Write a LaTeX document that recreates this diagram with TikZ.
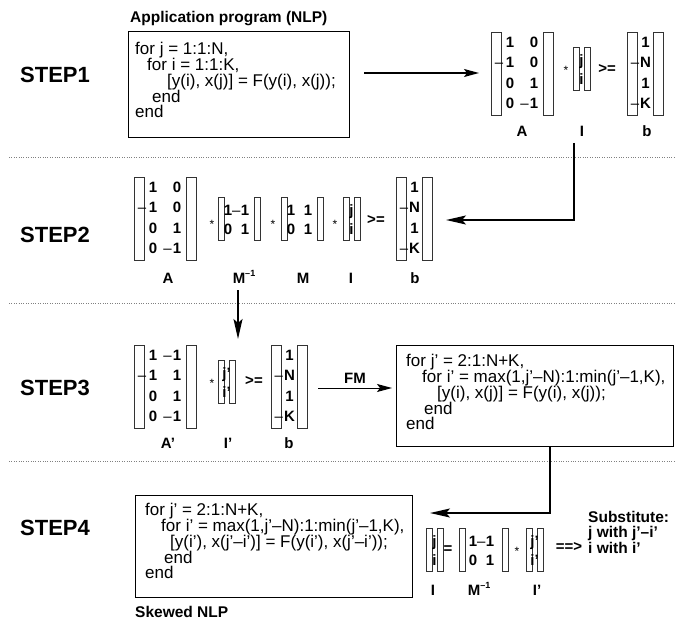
\documentclass[tikz,border=0pt]{standalone}
\usepackage{fontspec}
\setmainfont{Liberation Sans}
\usetikzlibrary{arrows.meta}

\newcommand\mn{\llap{\mdseries –\kern2.5pt}}
\newcommand\mb{\llap{\mdseries –\kern1pt}}
\newcommand\mm{\llap{\mdseries –\kern0.3pt}}
\newcommand\minv{M\raisebox{7pt}{\fontsize{9}{9}\selectfont –1}}

\tikzset{
  stepl/.style={font=\fontsize{22}{22}\selectfont\bfseries, anchor=west, inner sep=0},
  codebox/.style={draw, line width=0.8pt, anchor=north west, inner sep=0},
  codetext/.style={anchor=north west, inner sep=0, align=left, font=\fontsize{17}{16}\selectfont},
  ent/.style={font=\fontsize{15}{15}\selectfont\bfseries, inner sep=0, text height=10.7pt, text depth=0pt, anchor=center},
  opr/.style={font=\fontsize{15}{15}\selectfont\bfseries, inner sep=0, anchor=center},
  star/.style={font=\fontsize{12}{12}\selectfont, inner sep=0, anchor=base},
  brk/.style={draw=black!80, line width=0.6pt},
  lbl/.style={font=\fontsize{15}{15}\selectfont\bfseries, inner sep=0, text height=10.7pt, text depth=0pt, anchor=center},
  ttl/.style={font=\fontsize{15.5}{15.5}\selectfont\bfseries, inner sep=0, anchor=west},
  sepline/.style={gray, line width=0.7pt, dash pattern=on 0.8pt off 1.6pt},
  arr/.style={-{Stealth[length=15pt,width=8pt,inset=3pt]}, line width=1.3pt},
  conn/.style={-{Stealth[length=20pt,width=9pt,inset=4pt]}, line width=1.8pt},
}

% 4x2 matrix: name, left, top, list a/b
\newcommand\fourbytwo[4]{%
  \begin{scope}[shift={(#2,#3)}]
    \draw[brk] (0,0) rectangle (10,83);
    \draw[brk] (52,0) rectangle (62,83);
    \foreach \a/\b [count=\i] in {#4} {
      \node[ent] (#1-\i-1) at (19,{10+20.5*(\i-1)}) {\a};
      \node[ent] (#1-\i-2) at (43,{10+20.5*(\i-1)}) {\b};
    }
  \end{scope}}
% 4x1 vector: name, left, top, list
\newcommand\fourvec[4]{%
  \begin{scope}[shift={(#2,#3)}]
    \draw[brk] (0,0) rectangle (10,83);
    \draw[brk] (26,0) rectangle (36,83);
    \foreach \a [count=\i] in {#4} {
      \node[ent] (#1-\i) at (18.5,{10+20.5*(\i-1)}) {\a};
    }
  \end{scope}}
% 2x2 matrix: name, left, top, right bracket x, col1, col2, list a/b
\newcommand\twobytwo[7]{%
  \begin{scope}[shift={(#2,#3)}]
    \draw[brk] (0,0) rectangle (6,43);
    \draw[brk] (#4,0) rectangle ({#4+6},43);
    \foreach \a/\b [count=\i] in {#7} {
      \node[ent] (#1-\i-1) at (#5,{13+19*(\i-1)}) {\a};
      \node[ent] (#1-\i-2) at (#6,{13+19*(\i-1)}) {\b};
    }
  \end{scope}}
% 2x1 vector: name, left, top, list
\newcommand\twovec[4]{%
  \begin{scope}[shift={(#2,#3)}]
    \draw[brk] (0,0) rectangle (6,43);
    \draw[brk] (11,0) rectangle (17,43);
    \foreach \a [count=\i] in {#4} {
      \node[ent] (#1-\i) at (8.5,{13+19*(\i-1)}) {\a};
    }
  \end{scope}}

\begin{document}
\begin{tikzpicture}[x=1pt,y=-1pt]
\useasboundingbox (0,0) rectangle (676,620);

% step labels
\node[stepl] (st1) at (20,75) {STEP1};
\node[stepl] (st2) at (20,235) {STEP2};
\node[stepl] (st3) at (20,388) {STEP3};
\node[stepl] (st4) at (20,528) {STEP4};

% separators
\coordinate (d1a) at (9,157);  \coordinate (d1b) at (676,157);
\coordinate (d2a) at (9,303);  \coordinate (d2b) at (676,303);
\coordinate (d3a) at (9,461);  \coordinate (d3b) at (676,461);
\draw[sepline] (d1a) -- (d1b);
\draw[sepline] (d2a) -- (d2b);
\draw[sepline] (d3a) -- (d3b);

% ---------- STEP1 ----------
\node[ttl] (title1) at (130,19) {Application program (NLP)};
\node[codebox, minimum width=221pt, minimum height=106pt] (box1) at (128,31) {};
\node[codetext] (code1) at (135,42) {for j = 1:1:N,\\
\hspace*{12pt}for i = 1:1:K,\\
\hspace*{32pt}[y(i), x(j)] = F(y(i), x(j));\\[-0.5pt]
\hspace*{17pt}end\\[-1pt]
end};

\fourbytwo{sA}{491}{32}{1/0, \mn1/0, 0/1, 0/\mb1}
\node[star] (s1star) at (566,75) {*};
\twovec{sI}{573}{47}{j, i}
\node[opr] (s1ge) at (607,69) {>=};
\fourvec{sb}{627}{32}{1, \mb N, 1, \mb K}
\node[lbl] (s1lA) at (522,131) {A};
\node[lbl] (s1lI) at (582,131) {I};
\node[lbl] (s1lb) at (647,131) {b};

\coordinate (a1s) at (364,73);
\coordinate (a1e) at (479,73);
\draw[arr] (a1s) -- (a1e);

% STEP1 -> STEP2
\coordinate (c1s) at (574,143);
\coordinate (c1e) at (446,220);
\draw[conn] (c1s) |- (c1e);

% ---------- STEP2 ----------
\fourbytwo{tA}{134}{177}{1/0, \mn1/0, 0/1, 0/\mb1}
\node[star] (s2star1) at (212,228) {*};
\twobytwo{tMi}{218}{197}{36}{10}{27}{1/\mm1, 0/1}
\node[star] (s2star2) at (273,228) {*};
\twobytwo{tM}{281}{197}{36}{10}{27}{1/1, 0/1}
\node[star] (s2star3) at (335,228) {*};
\twovec{tI}{343}{197}{j, i}
\node[opr] (s2ge) at (376,220) {>=};
\fourvec{tb}{396}{177}{1, \mb N, 1, \mb K}
\node[lbl] (s2lA) at (168,278) {A};
\node[lbl] (s2lMi) at (244,278) {\minv};
\node[lbl] (s2lM) at (303,278) {M};
\node[lbl] (s2lI) at (351,278) {I};
\node[lbl] (s2lb) at (415,278) {b};

% STEP2 -> STEP3
\coordinate (c2s) at (238,290);
\coordinate (c2e) at (238,339);
\draw[conn] (c2s) -- (c2e);

% ---------- STEP3 ----------
\fourbytwo{uA}{134}{345}{1/\mb1, \mn1/1, 0/1, 0/\mb1}
\node[star] (s3star) at (212,387) {*};
\twovec{uI}{218}{360}{j’, i’}
\node[opr] (s3ge) at (254,381) {>=};
\fourvec{ub}{271}{345}{1, \mb N, 1, \mb K}
\node[lbl] (s3lA) at (168,443) {A’};
\node[lbl] (s3lI) at (228,443) {I’};
\node[lbl] (s3lb) at (289,443) {b};

\coordinate (fms) at (318,388);
\coordinate (fme) at (392,388);
\draw[arr, line width=1pt] (fms) -- node[above=4pt, font=\fontsize{15}{15}\selectfont\bfseries, inner sep=0] (fm) {FM} (fme);

\node[codebox, minimum width=277pt, minimum height=101pt] (box3) at (396,345) {};
\node[codetext] (code3) at (406,354) {for j’ = 2:1:N+K,\\
\hspace*{16pt}for i’ = max(1,j’–N):1:min(j’–1,K),\\
\hspace*{31pt}[y(i), x(j)] = F(y(i), x(j));\\[-0.5pt]
\hspace*{18pt}end\\[-1pt]
end};

% STEP3 -> STEP4
\coordinate (c3s) at (550,446);
\coordinate (c3e) at (430,513);
\draw[conn] (c3s) |- (c3e);

% ---------- STEP4 ----------
\node[codebox, minimum width=277pt, minimum height=102pt] (box4) at (135,495) {};
\node[codetext] (code4) at (145,503) {for j’ = 2:1:N+K,\\
\hspace*{16pt}for i’ = max(1,j’–N):1:min(j’–1,K),\\
\hspace*{25pt}[y(i’), x(j’–i’)] = F(y(i’), x(j’–i’));\\[-0.5pt]
\hspace*{19pt}end\\[-1pt]
end};
\node[ttl] (title4) at (135,612) {Skewed NLP};

\twovec{vI}{426}{528}{j, i}
\node[opr] (s4eq) at (448,550) {=};
\twobytwo{vMi}{459}{528}{43}{14}{31}{1/\mm1, 0/1}
\node[star] (s4star) at (517,555) {*};
\twovec{vIp}{526}{528}{j’, i’}
\node[opr] (s4imp) at (569,547) {==>};
\node[font=\fontsize{15.5}{15.5}\selectfont\bfseries, inner sep=0, anchor=west, align=left] (subst) at (588,532) {Substitute:\\j with j’–i’\\i with i’};
\node[lbl] (s4lI) at (433,590) {I};
\node[lbl] (s4lMi) at (479,590) {\minv};
\node[lbl] (s4lIp) at (537,590) {I’};
\end{tikzpicture}
\end{document}
